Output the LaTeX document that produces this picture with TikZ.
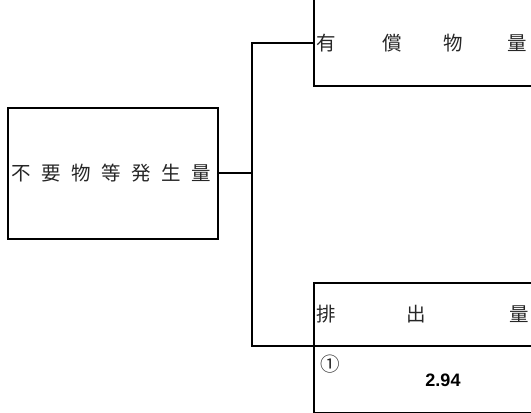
\documentclass[tikz,border=0pt]{standalone}
\usepackage{fontspec}
\newfontfamily\jp{Noto Sans CJK JP}
\newfontfamily\numfont{Liberation Sans}
\begin{document}
\begin{tikzpicture}[x=1pt,y=-1pt,
  box/.style={draw, line width=2pt, inner sep=0pt, anchor=north west},
  conn/.style={line width=2pt},
  jt/.style={font=\jp\fontsize{19.5}{19.5}\selectfont, inner sep=0pt, anchor=west, text=black!85},
  num/.style={font=\numfont\bfseries\fontsize{18}{18}\selectfont, inner sep=0pt}]
\useasboundingbox (0,0) rectangle (531,413);
\clip (0,0) rectangle (531,413);
\node[box, minimum width=210pt, minimum height=131pt] (src) at (7,107) {};
\node[box, minimum width=260pt, minimum height=115pt] (top) at (313,-30) {};
\node[box, minimum width=260pt, minimum height=130pt] (bot) at (313,282) {};
\node[jt] (srct) at (11,173) {不\hspace{10.5pt}要\hspace{10.5pt}物\hspace{10.5pt}等\hspace{10.5pt}発\hspace{10.5pt}生\hspace{10.5pt}量};
\node[jt] (topt) at (316,43) {有\hspace{47pt}償\hspace{41pt}物\hspace{45pt}量};
\node[jt] (bott) at (316,314) {排\hspace{71pt}出\hspace{83pt}量};
\node[font=\jp\fontsize{19.5}{19.5}\selectfont, inner sep=0pt, text=black!85] (mark) at (330,364) {①};
\node[num] (val) at (443,380) {2.94};
\coordinate (j) at (252,173);
\coordinate (divL) at (313,346);
\coordinate (divR) at (580,346);
\draw[conn] (src.east |- j) -- (j);
\draw[conn] (top.west |- topt) -| (j) |- (divL);
\draw[conn] (divL) -- (divR);
\end{tikzpicture}
\end{document}
